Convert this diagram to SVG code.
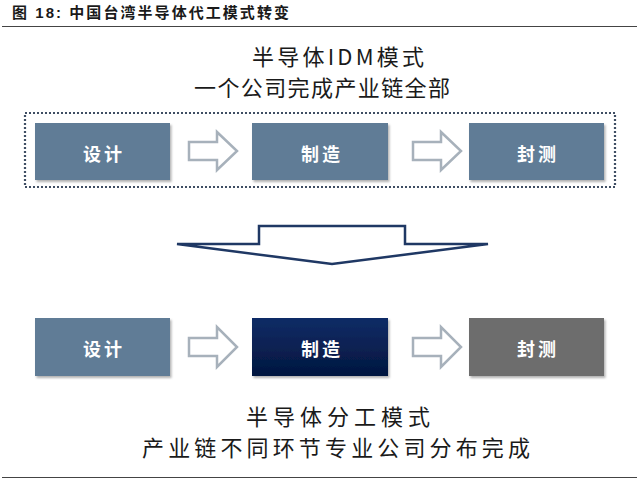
<svg xmlns="http://www.w3.org/2000/svg" width="640" height="486" viewBox="0 0 640 486">
<style>
.cap{font-family:"Liberation Sans","Noto Sans CJK SC",sans-serif;font-weight:bold;font-size:15px;fill:#1a1a1a}
.hd{font-family:"Noto Sans CJK SC",sans-serif;font-size:22px;fill:#1a1a1a}
.hd2{font-family:"Noto Sans CJK SC",sans-serif;font-size:22px;fill:#1a1a1a}
.lbl{font-family:"Noto Sans CJK SC",sans-serif;font-weight:bold;font-size:18px;fill:#ffffff;text-anchor:middle;letter-spacing:3px}
.box{fill:#607b96;filter:url(#sh)}
.arr{fill:#ffffff;stroke:#a7b1bb;stroke-width:2.5;stroke-linejoin:miter}
.rule{stroke:#444;stroke-width:1.2}
</style>
<defs>
<filter id="sh" x="-5%" y="-10%" width="112%" height="125%">
<feDropShadow dx="1.5" dy="2" stdDeviation="1.2" flood-color="#000" flood-opacity="0.3"/>
</filter>
<linearGradient id="navy" x1="0" y1="0" x2="0" y2="1">
<stop offset="0" stop-color="#0f2c66"/>
<stop offset="1" stop-color="#03163f"/>
</linearGradient>
</defs>
<rect width="640" height="486" fill="#ffffff"/>
<text class="cap" x="12" y="18" textLength="277" lengthAdjust="spacing">图 18:  中国台湾半导体代工模式转变</text>
<line class="rule" x1="2" y1="26.5" x2="637" y2="26.5"/>
<line class="rule" x1="2" y1="477.5" x2="637" y2="477.5"/>

<g id="idm-title">
<text class="hd" x="252" y="65" textLength="172" lengthAdjust="spacing">半导体IDM模式</text>
<text class="hd" x="194" y="96" textLength="256" lengthAdjust="spacing">一个公司完成产业链全部</text>
</g>
<g id="idm-frame">
<rect x="25" y="113" width="590" height="74" fill="none" stroke="#3f4e63" stroke-width="2.2" stroke-dasharray="2,2"/>
</g>
<g id="top-design"><rect class="box" x="35" y="123" width="135" height="57"/><text class="lbl" x="104" y="161">设计</text></g>
<g id="top-fab"><rect class="box" x="252" y="123" width="136" height="57"/><text class="lbl" x="322" y="161">制造</text></g>
<g id="top-test"><rect class="box" x="469" y="123" width="135" height="57"/><text class="lbl" x="538" y="161">封测</text></g>

<g id="fab-title">
<text class="hd2" x="246" y="425" textLength="184" lengthAdjust="spacing">半导体分工模式</text>
<text class="hd2" x="142" y="456" textLength="388" lengthAdjust="spacing">产业链不同环节专业公司分布完成</text>
</g>
<g id="bot-design"><rect class="box" x="35" y="318" width="135" height="58"/><text class="lbl" x="104" y="356">设计</text></g>
<g id="bot-fab"><rect x="252" y="318" width="136" height="58" fill="url(#navy)" filter="url(#sh)"/><text class="lbl" x="322" y="356">制造</text></g>
<g id="bot-test"><rect x="469" y="318" width="135" height="58" fill="#6d6d6d" filter="url(#sh)"/><text class="lbl" x="538" y="356">封测</text></g>

<g id="connectors">
<polygon class="arr" points="189,142 217,142 217,132 237,151 217,170 217,160 189,160"/>
<polygon class="arr" points="413,142 441,142 441,132 461,151 441,170 441,160 413,160"/>
<polygon class="arr" points="189,338 217,338 217,327 237,347 217,367 217,356 189,356"/>
<polygon class="arr" points="413,338 441,338 441,327 461,347 441,367 441,356 413,356"/>
<polygon points="259,226 405,226 405,244 488,244 332,264 177,244 259,244" fill="#ffffff" stroke="#1f3864" stroke-width="2.5" stroke-linejoin="miter"/>
</g>
</svg>
